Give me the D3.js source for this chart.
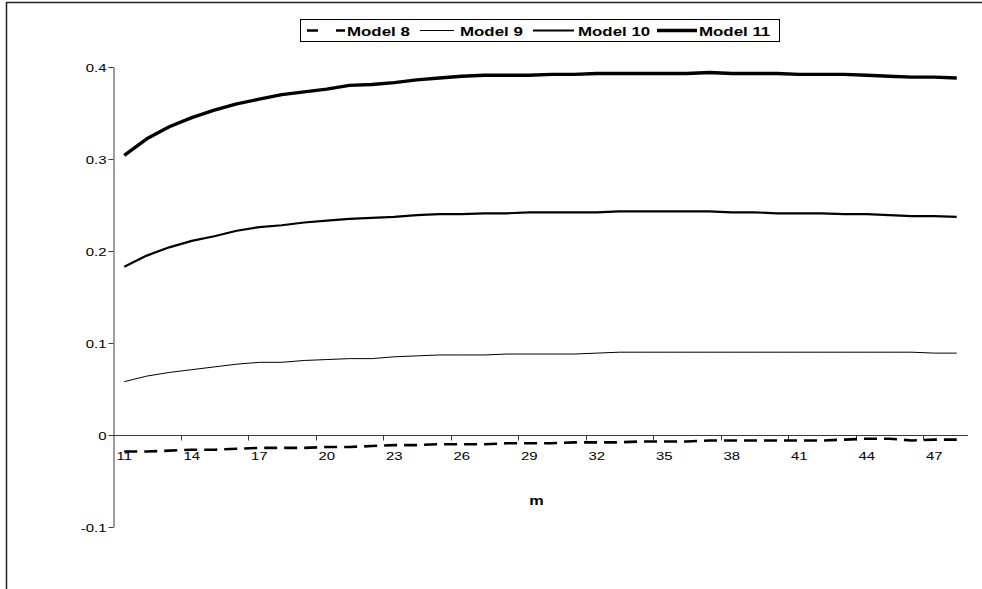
<!DOCTYPE html>
<html>
<head>
<meta charset="utf-8">
<script src="https://cdn.jsdelivr.net/npm/d3@7"></script>
<style>
  html, body { margin: 0; padding: 0; background: #fff; overflow: hidden; }
  svg { display: block; }
  text { font-family: "Liberation Sans", Arial, sans-serif; fill: #000; }
</style>
</head>
<body>
<svg id="chart" width="982" height="589"></svg>
<script>
// Horizon m
const mValues = d3.range(11, 49);

const model8 = [-0.018, -0.018, -0.017, -0.016, -0.016, -0.015, -0.014, -0.014, -0.014, -0.013,
  -0.013, -0.012, -0.011, -0.011, -0.010, -0.010, -0.010, -0.009, -0.009, -0.009,
  -0.008, -0.008, -0.008, -0.007, -0.007, -0.007, -0.006, -0.006, -0.006, -0.006,
  -0.006, -0.006, -0.005, -0.004, -0.004, -0.006, -0.005, -0.005];
const model9 = [0.058, 0.064, 0.068, 0.071, 0.074, 0.077, 0.079, 0.079, 0.081, 0.082,
  0.083, 0.083, 0.085, 0.086, 0.087, 0.087, 0.087, 0.088, 0.088, 0.088,
  0.088, 0.089, 0.090, 0.090, 0.090, 0.090, 0.090, 0.090, 0.090, 0.090,
  0.090, 0.090, 0.090, 0.090, 0.090, 0.090, 0.089, 0.089];
const model10 = [0.183, 0.195, 0.204, 0.211, 0.216, 0.222, 0.226, 0.228, 0.231, 0.233,
  0.235, 0.236, 0.237, 0.239, 0.240, 0.240, 0.241, 0.241, 0.242, 0.242,
  0.242, 0.242, 0.243, 0.243, 0.243, 0.243, 0.243, 0.242, 0.242, 0.241,
  0.241, 0.241, 0.240, 0.240, 0.239, 0.238, 0.238, 0.237];
const model11 = [0.304, 0.322, 0.335, 0.345, 0.353, 0.360, 0.365, 0.370, 0.373, 0.376,
  0.380, 0.381, 0.383, 0.386, 0.388, 0.390, 0.391, 0.391, 0.391, 0.392,
  0.392, 0.393, 0.393, 0.393, 0.393, 0.393, 0.394, 0.393, 0.393, 0.393,
  0.392, 0.392, 0.392, 0.391, 0.390, 0.389, 0.389, 0.388];

const yTicks = [-0.1, 0, 0.1, 0.2, 0.3, 0.4];
const yTickLabels = ["-0.1", "0", "0.1", "0.2", "0.3", "0.4"];
const xTickLabels = [11, 14, 17, 20, 23, 26, 29, 32, 35, 38, 41, 44, 47];

const seriesNames = ["Model 8", "Model 9", "Model 10", "Model 11"];
const seriesValues = [model8, model9, model10, model11];
const seriesStyle = [
  { width: 2.6, dash: "13,7", legendDash: "11,18" },
  { width: 1, dash: null, legendDash: null },
  { width: 2.2, dash: null, legendDash: null },
  { width: 3.4, dash: null, legendDash: null }
];

const svg = d3.select("#chart");
const SX = 1.3; // horizontal text stretch

// Chart frame (left and top edges)
svg.append("path")
  .attr("d", "M6.5,589 V2.5 H982")
  .attr("fill", "none").attr("stroke", "#222").attr("stroke-width", 1.5);

const plot = { left: 113, right: 968, top: 67, bottom: 527 };

const x = d3.scaleBand()
  .domain(mValues)
  .range([plot.left, plot.right])
  .paddingInner(0).paddingOuter(0);

const y = d3.scaleLinear()
  .domain([-0.1, 0.4])
  .range([plot.bottom, plot.top]);

const axisColor = "#3a3a3a";

// Y axis
const yAxis = svg.append("g")
  .attr("transform", `translate(${plot.left + 0.5},0)`)
  .call(d3.axisLeft(y).tickValues(yTicks).tickSize(5).tickSizeOuter(0)
    .tickFormat((d, i) => yTickLabels[i]));
yAxis.select(".domain").attr("stroke", axisColor);
yAxis.selectAll(".tick line").attr("stroke", axisColor);
yAxis.selectAll(".tick text")
  .attr("font-size", 11.5)
  .attr("font-family", "'Liberation Sans', Arial, sans-serif")
  .attr("fill", "#000")
  .attr("x", null).attr("dy", null)
  .attr("transform", `translate(-7,4) scale(${SX},1)`)
  .attr("text-anchor", "end");

// X axis along y = 0, ticks between categories every 3 steps
const y0 = Math.round(y(0)) + 0.5;
svg.append("line")
  .attr("x1", plot.left).attr("x2", plot.right)
  .attr("y1", y0).attr("y2", y0)
  .attr("stroke", axisColor);

const tickBounds = d3.range(3, mValues.length, 3).map(i => x(mValues[i]));
svg.append("g").selectAll("line")
  .data(tickBounds)
  .join("line")
  .attr("x1", d => Math.round(d) + 0.5).attr("x2", d => Math.round(d) + 0.5)
  .attr("y1", y0).attr("y2", y0 + 5)
  .attr("stroke", axisColor);

svg.append("g").selectAll("text")
  .data(xTickLabels)
  .join("text")
  .attr("transform", d => `translate(${x(d) + x.bandwidth() / 2},${y0 + 24}) scale(${SX},1)`)
  .attr("text-anchor", "middle")
  .attr("font-size", 11.5)
  .text(d => d);

// Axis title
svg.append("text")
  .attr("transform", `translate(${(plot.left + plot.right) / 2 - 4},505) scale(${SX},1)`)
  .attr("text-anchor", "middle")
  .attr("font-size", 12.5)
  .attr("font-weight", "bold")
  .text("m");

// Series lines
const line = d3.line()
  .x((d, i) => x(mValues[i]) + x.bandwidth() / 2)
  .y(d => y(d));

seriesValues.forEach((vals, k) => {
  const st = seriesStyle[k];
  svg.append("path")
    .datum(vals)
    .attr("fill", "none")
    .attr("stroke", "#000")
    .attr("stroke-width", st.width)
    .attr("stroke-linejoin", "round")
    .attr("stroke-dasharray", st.dash)
    .attr("d", line);
});

// Legend
const legend = svg.append("g");
legend.append("rect")
  .attr("x", 300.5).attr("y", 19.5)
  .attr("width", 479).attr("height", 22)
  .attr("fill", "#fff").attr("stroke", "#000");

const legendItems = [
  { sx: 307, ex: 345, tx: 347 },
  { sx: 420, ex: 454, tx: 460 },
  { sx: 533, ex: 574, tx: 578 },
  { sx: 657, ex: 697, tx: 699 }
];
legendItems.forEach((it, k) => {
  const st = seriesStyle[k];
  legend.append("line")
    .attr("x1", it.sx).attr("x2", it.ex)
    .attr("y1", 30.5).attr("y2", 30.5)
    .attr("stroke", "#000")
    .attr("stroke-width", st.width)
    .attr("stroke-dasharray", st.legendDash);
  legend.append("text")
    .attr("transform", `translate(${it.tx},35.5) scale(1.25,1)`)
    .attr("font-size", 13.5)
    .attr("font-weight", "bold")
    .text(seriesNames[k]);
});
</script>
</body>
</html>
